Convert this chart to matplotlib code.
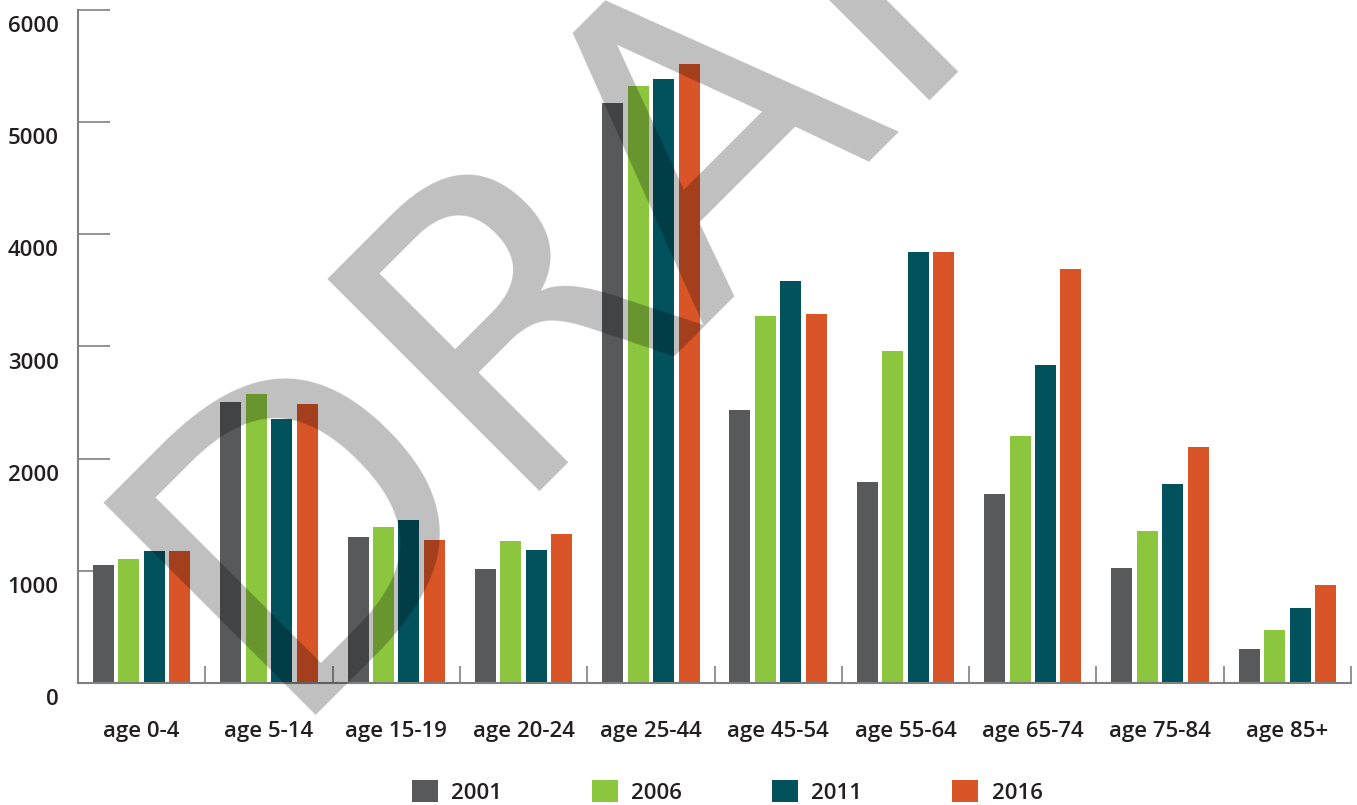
import numpy as np
import matplotlib
matplotlib.use('Agg')
from matplotlib import pyplot as plt
from matplotlib.patches import Patch
from matplotlib.transforms import ScaledTranslation

plt.rcParams['font.family'] = ['Open Sans', 'DejaVu Sans']

categories = ['age 0-4', 'age 5-14', 'age 15-19', 'age 20-24', 'age 25-44',
              'age 45-54', 'age 55-64', 'age 65-74', 'age 75-84', 'age 85+']
years = ['2001', '2006', '2011', '2016']
v2001 = [1050, 2505, 1300, 1015, 5170, 2435, 1790, 1685, 1025, 305]
v2006 = [1105, 2575, 1390, 1265, 5320, 3270, 2960, 2200, 1355, 470]
v2011 = [1175, 2355, 1455, 1185, 5385, 3585, 3840, 2835, 1775, 670]
v2016 = [1175, 2490, 1275, 1330, 5520, 3290, 3840, 3690, 2105, 875]
colors = ['#58595b', '#8cc63f', '#02525e', '#d95427']

text_col = '#231f20'
axis_col = '#808080'
fs = 16

fig = plt.figure(figsize=(13.57, 8.05), dpi=100)
ax = fig.add_axes([78 / 1357, 1 - 683 / 805, (1351 - 78) / 1357, (683 - 10) / 805])

x = np.arange(len(categories))
step = 0.2
width = 0.165
for j, (vals, col) in enumerate(zip([v2001, v2006, v2011, v2016], colors)):
    ax.bar(x + (j - 1.5) * step, vals, width=width, color=col, label=years[j], zorder=2)

ax.set_xlim(-0.5, len(categories) - 0.5)
ax.set_ylim(0, 6000)

for s in ['top', 'right']:
    ax.spines[s].set_visible(False)
for s in ['left', 'bottom']:
    ax.spines[s].set_color(axis_col)
    ax.spines[s].set_linewidth(1.5)

# y ticks: short lines pointing into the plot, labels sit a bit below
ax.set_yticks(np.arange(0, 7000, 1000))
ax.tick_params(axis='y', direction='in', length=23, width=1.2, color=axis_col,
               pad=14, labelsize=fs, labelcolor=text_col)
for lab in ax.get_yticklabels():
    lab.set_fontweight('semibold')
    lab.set_transform(lab.get_transform() + ScaledTranslation(0, -14 / 100, fig.dpi_scale_trans))

# x: separators as major ticks, category names on minor ticks
ax.set_xticks(np.arange(0.5, len(categories), 1.0))
ax.set_xticklabels([])
ax.set_xticks(x, minor=True)
ax.set_xticklabels(categories, minor=True, fontsize=fs, fontweight='semibold', color=text_col)
ax.tick_params(axis='x', which='major', direction='in', length=12, width=1.2, color=axis_col)
ax.tick_params(axis='x', which='minor', length=0, pad=27)

handles = [Patch(facecolor=c, edgecolor='none') for c in colors]
leg = fig.legend(handles, years, loc='center', bbox_to_anchor=(0.536, 0.0165), ncol=4,
                 frameon=False, fontsize=fs, handlelength=1.17, handleheight=1.17,
                 handletextpad=0.59, columnspacing=4.05, borderpad=0)
for t in leg.get_texts():
    t.set_fontweight('semibold')
    t.set_color(text_col)

# watermark
fig.text(275 / 1357, (805 - 715) / 805, 'DRAFT', rotation=45, rotation_mode='anchor',
         ha='left', va='baseline', fontsize=297, family='DejaVu Sans',
         color='black', alpha=0.25, zorder=10)

fig.savefig('out.png', dpi=100)
